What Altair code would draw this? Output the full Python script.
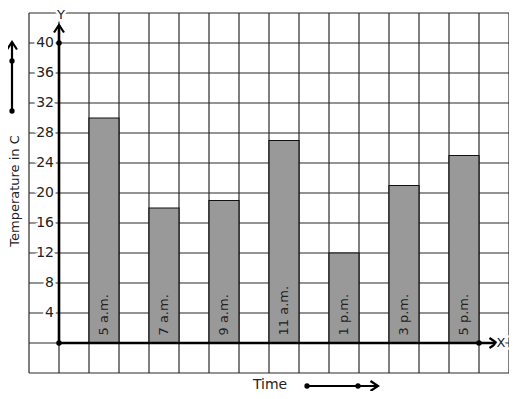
import altair as alt
import pandas as pd

# ---- data ----
times = ["5 a.m.", "7 a.m.", "9 a.m.", "11 a.m.", "1 p.m.", "3 p.m.", "5 p.m."]
temps = [30, 18, 19, 27, 12, 21, 25]
y_ticks = [4, 8, 12, 16, 20, 24, 28, 32, 36, 40]
x_title = "Time"
y_title = "Temperature in C"

X_MIN, X_MAX = -1, 15
Y_MIN, Y_MAX = -4, 44
FONT = "DejaVu Sans"

xs = alt.Scale(domain=[X_MIN, X_MAX], nice=False, zero=False)
ys = alt.Scale(domain=[Y_MIN, Y_MAX], nice=False, zero=False)

bars = pd.DataFrame({"time": times, "temp": temps})
bars["x0"] = [2 * i + 1 for i in range(len(times))]
bars["x1"] = bars["x0"] + 1
bars["xc"] = bars["x0"] + 0.5
bars["zero"] = 0
bars["lab_y"] = 1.0

vgrid = pd.DataFrame({"x": list(range(X_MIN, X_MAX + 1))})
vgrid["y0"] = Y_MIN
vgrid["y1"] = Y_MAX
hgrid = pd.DataFrame({"y": list(range(Y_MIN, Y_MAX + 1, 4))})
hgrid["x0"] = X_MIN
hgrid["x1"] = X_MAX

ticks = pd.DataFrame({"v": y_ticks, "lab": [str(t) for t in y_ticks]})
ticks["zero"] = 0

X = lambda f: alt.X(f, scale=xs, axis=None)
Y = lambda f: alt.Y(f, scale=ys, axis=None)

grid_v = alt.Chart(vgrid).mark_rule(color="#2a2a2a", strokeWidth=1.2).encode(
    x=X("x:Q"), y=Y("y0:Q"), y2="y1:Q")
grid_h = alt.Chart(hgrid).mark_rule(color="#2a2a2a", strokeWidth=1.2).encode(
    y=Y("y:Q"), x=X("x0:Q"), x2="x1:Q")

bar = alt.Chart(bars).mark_rect(fill="#999999", stroke="#111111", strokeWidth=1.2).encode(
    x=X("x0:Q"), x2="x1:Q", y=Y("zero:Q"), y2="temp:Q")

bar_lab = alt.Chart(bars).mark_text(
    angle=270, align="left", baseline="middle", fontSize=13, font=FONT, color="#222"
).encode(x=X("xc:Q"), y=Y("lab_y:Q"), text="time:N")

tick_halo = alt.Chart(ticks).mark_text(
    align="right", baseline="middle", dx=-5, fontSize=14, font=FONT,
    fill="white", stroke="white", strokeWidth=5
).encode(x=X("zero:Q"), y=Y("v:Q"), text="lab:N")
tick_lab = alt.Chart(ticks).mark_text(
    align="right", baseline="middle", dx=-5, fontSize=14, font=FONT, color="#222"
).encode(x=X("zero:Q"), y=Y("v:Q"), text="lab:N")

# axis lines with arrows
axes_df = pd.DataFrame({"x0": [0, 0], "y0": [0, 0], "x1": [14.6, 0], "y1": [0, 42.4]})
axes = alt.Chart(axes_df).mark_rule(color="black", strokeWidth=2.6).encode(
    x=X("x0:Q"), y=Y("y0:Q"), x2="x1:Q", y2="y1:Q")

dots_df = pd.DataFrame({"x": [0, 0, 14], "y": [0, 40, 0]})
dots = alt.Chart(dots_df).mark_circle(color="black", size=30, opacity=1).encode(
    x=X("x:Q"), y=Y("y:Q"))

UP = "M-1,1.5L0,0L1,1.5"
RIGHT = "M-1.5,-1L0,0L-1.5,1"
y_tip = alt.Chart(pd.DataFrame({"x": [0], "y": [42.4]})).mark_point(
    shape=UP, filled=False, stroke="black", strokeWidth=2.2, size=100, opacity=1
).encode(x=X("x:Q"), y=Y("y:Q"))
x_tip = alt.Chart(pd.DataFrame({"x": [14.6], "y": [0]})).mark_point(
    shape=RIGHT, filled=False, stroke="black", strokeWidth=2.2, size=100, opacity=1
).encode(x=X("x:Q"), y=Y("y:Q"))

# axis letters with white halo
def letter(txt, px, py, baseline="middle"):
    base = dict(align="center", baseline=baseline, fontSize=13, font=FONT)
    halo = alt.Chart(pd.DataFrame({"t": [txt]})).mark_text(
        fill="white", stroke="white", strokeWidth=5, **base
    ).encode(x=alt.value(px), y=alt.value(py), text="t:N")
    fg = alt.Chart(pd.DataFrame({"t": [txt]})).mark_text(color="#222", **base).encode(
        x=alt.value(px), y=alt.value(py), text="t:N")
    return halo + fg

y_letter = letter("Y", 32, 6, baseline="alphabetic")
x_letter = letter("X", 472, 330)

# titles
ytitle = alt.Chart(pd.DataFrame({"t": [y_title]})).mark_text(
    angle=270, align="center", baseline="middle", fontSize=13, font=FONT, color="#222"
).encode(x=alt.value(-14), y=alt.value(178), text="t:N")
xtitle = alt.Chart(pd.DataFrame({"t": [x_title]})).mark_text(
    align="center", baseline="alphabetic", fontSize=14, font=FONT, color="#222"
).encode(x=alt.value(241), y=alt.value(376), text="t:N")

# decorative arrows beside titles
left_arrow = alt.Chart(pd.DataFrame({"a": [0]})).mark_rule(color="black", strokeWidth=2.2).encode(
    x=alt.value(-17), y=alt.value(29), y2=alt.value(98))
left_dots = alt.Chart(pd.DataFrame({"yy": [48, 98]})).mark_circle(
    color="black", size=28, opacity=1).encode(x=alt.value(-17), y=alt.Y("yy:Q", scale=None, axis=None))
left_tip = alt.Chart(pd.DataFrame({"a": [0]})).mark_point(
    shape=UP, filled=False, stroke="black", strokeWidth=2.2, size=100, opacity=1
).encode(x=alt.value(-17), y=alt.value(29))

bot_arrow = alt.Chart(pd.DataFrame({"a": [0]})).mark_rule(color="black", strokeWidth=2.2).encode(
    x=alt.value(278), x2=alt.value(348), y=alt.value(373))
bot_dots = alt.Chart(pd.DataFrame({"xx": [278, 329]})).mark_circle(
    color="black", size=28, opacity=1).encode(x=alt.X("xx:Q", scale=None, axis=None), y=alt.value(373))
bot_tip = alt.Chart(pd.DataFrame({"a": [0]})).mark_point(
    shape=RIGHT, filled=False, stroke="black", strokeWidth=2.2, size=100, opacity=1
).encode(x=alt.value(349), y=alt.value(373))

chart = alt.layer(
    grid_v, grid_h, bar, bar_lab, tick_halo, tick_lab, axes, dots, y_tip, x_tip,
    y_letter, x_letter, ytitle, xtitle,
    left_arrow, left_dots, left_tip, bot_arrow, bot_dots, bot_tip,
).resolve_scale(x="independent", y="independent").properties(
    width=480, height=360,
    autosize=alt.AutoSizeParams(type="none"),
    padding={"left": 21, "top": 5, "right": 0, "bottom": 18},
).configure_view(stroke=None)

chart.save("out.html", embed_options={"renderer": "svg", "actions": False})
